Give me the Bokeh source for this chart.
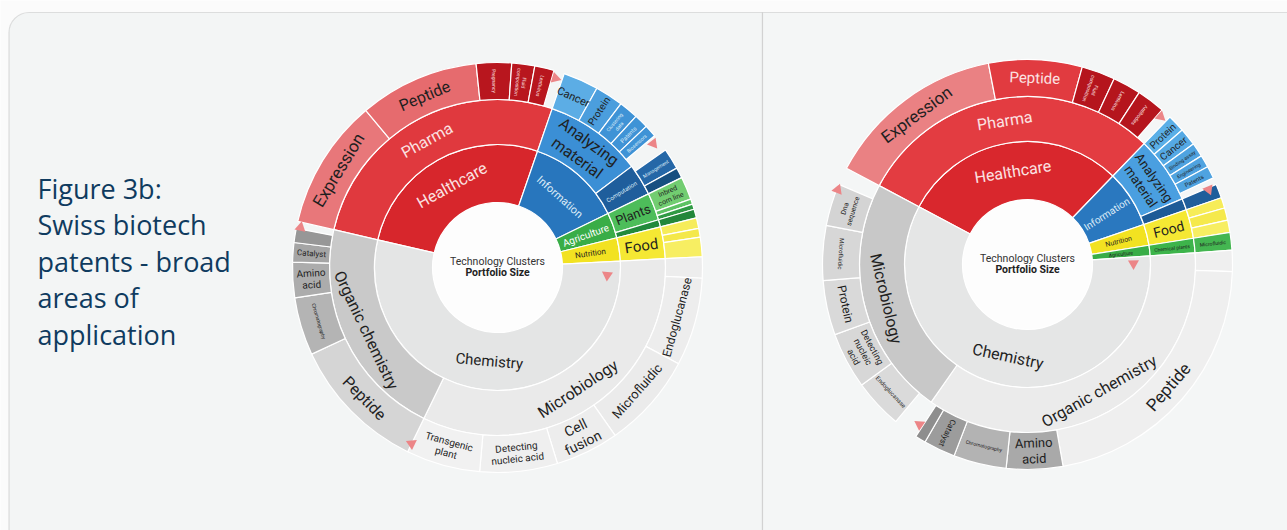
import numpy as np
from bokeh.plotting import figure
from bokeh.models import Range1d, BoxAnnotation, ColumnDataSource
from bokeh.core.properties import value
from bokeh.embed import file_html
from bokeh.resources import INLINE

# ---------------- data ----------------
title_lines = ["Figure 3b:", "Swiss biotech", "patents - broad", "areas of", "application"]
center_lines = ["Technology Clusters", "Portfolio Size"]

# Left sunburst: portfolio shares (in degrees of the circle), clockwise
L1_labels = ["Healthcare", "Information", "Agriculture", "Nutrition", "Chemistry"]
L1_values = [96, 45, 12, 11, 196]
L2_labels = ["Pharma", "Analyzing\nmaterial", "Computation", "Plants", "", "Food",
             "Microbiology", "Organic chemistry"]
L2_values = [96, 34, 11, 9.5, 2.5, 11, 119, 77]
L3_labels = ["Expression", "Peptide", "Pregnancy", "Fluid\ncomposition", "Lentivirus", "",
             "Cancer", "Protein", "Clustering\ndata", "Patents", "Biosensors", "",
             "", "Management", "",
             "Inbred\ncorn line", "", "", "",
             "", "", "",
             "", "Endoglucanase", "Microfluidic", "Cell\nfusion", "Detecting\nnucleic acid",
             "Transgenic\nplant",
             "Peptide", "Chromatography", "Amino\nacid", "Catalyst", "", ""]
L3_values = [37, 34, 10, 6.5, 5.5, 3,
             10, 8, 5.5, 4, 3.5, 3,
             2, 6, 3,
             6.5, 1.5, 1.5, 2.5,
             3, 2.5, 5.5,
             6, 25, 27, 18, 22, 21,
             39, 16.5, 10, 5.5, 4, 2]

# Right sunburst
R1_labels = ["Healthcare", "Information", "Nutrition", "Agriculture", "Chemistry"]
R1_values = [106, 27, 10, 5, 212]
R2_labels = ["Pharma", "Analyzing\nmaterial", "", "Food", "Chemical plants",
             "Organic chemistry", "Microbiology"]
R2_values = [106, 23, 4, 10, 5, 129, 83]
R3_labels = ["Expression", "Peptide", "Fluid\ncomposition", "Lentivirus", "Antibodies", "",
             "Protein", "Cancer", "Binding assay", "Engineering", "Patents", "",
             "",
             "", "", "",
             "Microfluidic",
             "", "Peptide", "Amino\nacid", "Chromatography", "Catalyst", "", "",
             "", "Endoglucanase", "Detecting\nnucleic\nacid", "Protein", "Microfluidic",
             "Dna\nsequence", ""]
R3_values = [51, 26.5, 9.5, 8, 8, 3,
             5, 5, 4, 3.5, 3.5, 2,
             4,
             3, 3.5, 3.5,
             5,
             6, 78, 16, 15, 9, 3, 2,
             5, 14, 16, 15.5, 15.5, 12, 5]

# ---------------- styles ----------------
DARK = "#1f1f1f"
PINKW = "#fbe2e2"
BLUEW = "#dcebf7"
WHITE = "#ffffff"

L1_style = [("#d7262c", "tan", 16, PINKW), ("#2876bd", "tan", 11, BLUEW),
            ("#39ad47", "out", 10, WHITE), ("#f2e221", "out", 8, DARK),
            ("#e4e5e5", "tan", 15, DARK)]
L2_style = [("#e0393e", "tan", 16, PINKW), ("#3b8fd5", "tan", 16, DARK),
            ("#1f5e9c", "out", 6, BLUEW), ("#4dbd5a", "out", 13, DARK),
            ("#228a3b", "out", 8, DARK), ("#f5e833", "out", 15, DARK),
            ("#eaeaea", "tan", 16, DARK), ("#c9c9c9", "tan", 16, DARK)]
L3_style = [("#e8777a", "tan", 17, DARK), ("#e66b6e", "tan", 16, DARK),
            ("#b8161e", "in", 5, PINKW), ("#b8161e", "in", 5, PINKW),
            ("#b8161e", "in", 5, PINKW), (None, "tan", 5, DARK),
            ("#5cade5", "tan", 11, DARK), ("#4b9edd", "out", 10, DARK),
            ("#3f93d6", "out", 5, BLUEW), ("#3f93d6", "out", 6, BLUEW),
            ("#3f93d6", "out", 5, BLUEW), (None, "tan", 5, DARK),
            (None, "tan", 5, DARK), ("#2567a7", "out", 5, BLUEW),
            ("#174f80", "out", 5, BLUEW),
            ("#72cd71", "out", 7, DARK), ("#5dc263", "out", 5, DARK),
            ("#2f9a44", "out", 5, DARK), ("#23873a", "out", 5, DARK),
            ("#f6ec5a", "out", 5, DARK), ("#f4e84a", "out", 5, DARK),
            ("#f7ee62", "out", 5, DARK),
            ("#ededed", "tan", 5, DARK), ("#ededed", "tan", 12, DARK),
            ("#ebebeb", "tan", 13, DARK), ("#ededed", "tan", 14, DARK),
            ("#efefef", "tan", 10, DARK), ("#f1f1f1", "tan", 10, DARK),
            ("#d5d5d5", "tan", 16, DARK), ("#b4b4b4", "tan", 5, DARK),
            ("#acacac", "in", 10, DARK), ("#a5a5a5", "in", 8, DARK),
            ("#979797", "in", 5, DARK), (None, "tan", 5, DARK)]

R1_style = [("#d9272d", "tan", 16, PINKW), ("#2a78bf", "out", 10, BLUEW),
            ("#f2e221", "out", 7, DARK), ("#39ad47", "out", 5, DARK),
            ("#e5e6e6", "tan", 16, DARK)]
R2_style = [("#e33c41", "tan", 16, PINKW), ("#4a9fe0", "tan", 13, DARK),
            ("#1d5b97", "out", 5, DARK), ("#f5e833", "out", 14, DARK),
            ("#3db44b", "out", 5, DARK), ("#ebebeb", "tan", 16, DARK),
            ("#c8c8c8", "tan", 16, DARK)]
R3_style = [("#ea8183", "tan", 17, DARK), ("#e13b40", "tan", 15, PINKW),
            ("#b5151d", "in", 5, PINKW), ("#b5151d", "in", 5, PINKW),
            ("#b5151d", "in", 5, PINKW), (None, "tan", 5, DARK),
            ("#5aafe7", "out", 10, DARK), ("#55a9e4", "out", 10, DARK),
            ("#4fa3e0", "out", 5, DARK), ("#4fa3e0", "out", 5, DARK),
            ("#4fa3e0", "out", 6, DARK), (None, "tan", 5, DARK),
            ("#1f5e9b", "out", 5, DARK),
            ("#f6ec58", "out", 5, DARK), ("#f5e94c", "out", 5, DARK),
            ("#f7ee62", "out", 5, DARK),
            ("#44b651", "out", 5, DARK),
            ("#efefef", "tan", 5, DARK), ("#efefef", "tan", 17, DARK),
            ("#a9a9a9", "tan", 13, DARK), ("#b3b3b3", "tan", 5, DARK),
            ("#9c9c9c", "out", 8, DARK), ("#8e8e8e", "out", 5, DARK),
            (None, "tan", 5, DARK),
            (None, "tan", 5, DARK), ("#dadada", "tan", 6, DARK),
            ("#d7d7d7", "tan", 9, DARK), ("#d9d9d9", "tan", 12, DARK),
            ("#d7d7d7", "tanf", 6, DARK), ("#d4d4d4", "tan", 7, DARK),
            (None, "tan", 5, DARK)]

# layout (pixels; y measured upward from the bottom of the figure)
W, H = 1287, 530
RADII = [65, 123, 168, 205]
L_CENTER = (497, 263)
R_CENTER = (1027, 266)
L_START = 167
R_START = 152
L_TRI = ([73, 38.5, -4, 244, 168.5], [198, 199, 110, 196, 201])
R_TRI = ([48, 22.5, 0.5, 236, 158.5], [199, 196, 106, 193, 204])

p = figure(width=W, height=H, x_range=Range1d(0, W), y_range=Range1d(0, H),
           toolbar_location=None, output_backend="svg", min_border=0,
           x_axis_type=None, y_axis_type=None,
           background_fill_color="#fbfbfb", border_fill_color="#fbfbfb",
           outline_line_color=None)
p.grid.visible = False

# panels
p.add_layout(BoxAnnotation(left=8.5, right=762, top=518, bottom=-40,
                           fill_color="#f3f5f5", fill_alpha=1,
                           line_color="#a0a0a0", line_width=1.2,
                           border_radius=(20, 0, 0, 20), level="underlay"))
p.add_layout(BoxAnnotation(left=762, right=1400, top=518, bottom=-40,
                           fill_color="#f4f6f6", fill_alpha=1,
                           line_color="#a0a0a0", line_width=1.2,
                           level="underlay"))


def rot_for(mid, mode):
    m = mid % 360
    if mode in ("tan", "tanf"):
        r = m - 90 if 0 < m < 180 else m + 90
        if mode == "tanf":
            r += 180
    elif mode == "in":
        r = m - 180
    else:
        r = m
    return np.radians(r)


def ring(cx, cy, r0, r1, start, values, labels, style):
    v = np.array(values, float)
    hi = start - np.concatenate([[0.0], np.cumsum(v)[:-1]])
    lo = hi - v
    keep = [i for i, s in enumerate(style) if s[0] is not None]
    src = ColumnDataSource(dict(
        x=[cx] * len(keep), y=[cy] * len(keep),
        s=np.radians(lo[keep]), e=np.radians(hi[keep]),
        c=[style[i][0] for i in keep]))
    p.annular_wedge(x="x", y="y", inner_radius=r0, outer_radius=r1,
                    start_angle="s", end_angle="e", fill_color="c",
                    line_color="white", line_width=1.2, source=src)
    lab = [i for i, t in enumerate(labels) if t]
    mids = (lo + hi) / 2
    rm = (r0 + r1) / 2
    tsrc = ColumnDataSource(dict(
        x=[cx + rm * np.cos(np.radians(mids[i])) for i in lab],
        y=[cy + rm * np.sin(np.radians(mids[i])) for i in lab],
        t=[labels[i] for i in lab],
        a=[rot_for(mids[i], style[i][1]) for i in lab],
        fs=["%dpx" % style[i][2] for i in lab],
        tc=[style[i][3] for i in lab]))
    p.text(x="x", y="y", text="t", angle="a", text_font_size="fs",
           text_color="tc", text_align="center", text_baseline="middle",
           text_font=value("Roboto"), text_line_height=1.05, source=tsrc)


def sunburst(center, start, rings, tri):
    cx, cy = center
    p.circle(x=[cx], y=[cy], radius=RADII[0], fill_color="#fdfdfd", line_color=None)
    for k, (vals, labs, sty) in enumerate(rings):
        ring(cx, cy, RADII[k], RADII[k + 1], start, vals, labs, sty)
    ta, tr = np.array(tri[0], float), np.array(tri[1], float)
    p.scatter(x=cx + tr * np.cos(np.radians(ta)), y=cy + tr * np.sin(np.radians(ta)),
              marker="triangle", size=11, angle=np.radians(ta - 180),
              fill_color="#ec8587", line_color=None)
    p.text(x=[cx], y=[cy + 6], text=[center_lines[0]], text_font_size="10.5px",
           text_color="#333333", text_align="center", text_baseline="middle",
           text_font=value("Roboto"))
    p.text(x=[cx], y=[cy - 5], text=[center_lines[1]], text_font_size="10.5px",
           text_color="#222222", text_align="center", text_baseline="middle",
           text_font=value("Roboto"), text_font_style="bold")


sunburst(L_CENTER, L_START,
         [(L1_values, L1_labels, L1_style), (L2_values, L2_labels, L2_style),
          (L3_values, L3_labels, L3_style)], L_TRI)
sunburst(R_CENTER, R_START,
         [(R1_values, R1_labels, R1_style), (R2_values, R2_labels, R2_style),
          (R3_values, R3_labels, R3_style)], R_TRI)

# title
ty = [342 - 36.4 * i for i in range(len(title_lines))]
p.text(x=[37] * len(title_lines), y=ty, text=title_lines, text_font_size="27px",
       text_color="#0f3b5f", text_align="left", text_baseline="alphabetic",
       text_font=value("Open Sans"))

open("out.html", "w").write(file_html(p, INLINE))
